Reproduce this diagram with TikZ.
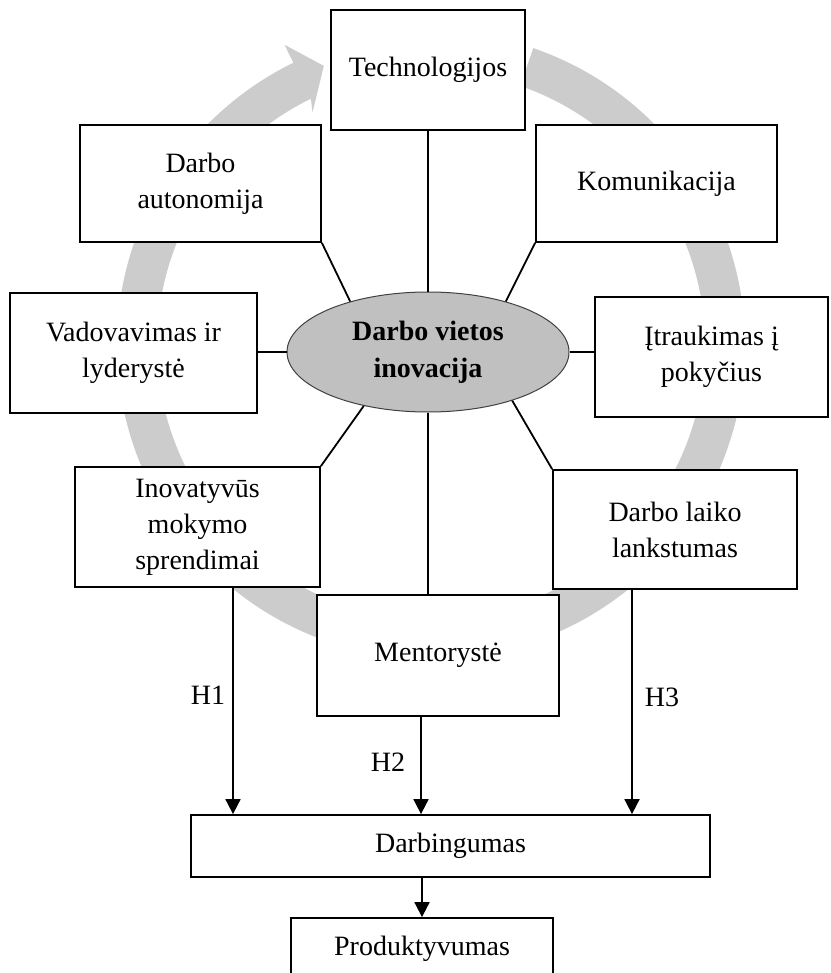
\documentclass[tikz,border=0pt]{standalone}
\usepackage{fontspec}
\setmainfont{Liberation Serif}
\usetikzlibrary{shapes.geometric,arrows.meta,calc}
\definecolor{ringgray}{RGB}{204,204,204}
\definecolor{hubgray}{RGB}{192,192,192}
\begin{document}
\begin{tikzpicture}[x=1pt,y=-1pt,
  every node/.style={font=\fontsize{28}{36}\selectfont, inner sep=0pt},
  factor/.style={draw, fill=white, line width=1.8pt, align=center},
  hub/.style={ellipse, draw=black!75, line width=1pt, fill=hubgray, align=center,
    font=\bfseries\fontsize{28}{37}\selectfont},
  link/.style={line width=1.8pt},
  arr/.style={line width=1.8pt, -{Triangle[width=15pt,length=15pt]}}
]
\useasboundingbox (0,0) rectangle (830,973);
\clip (0,0) rectangle (830,973);

% circular cycle arrow behind the factors
\fill[ringgray, shift={(431,345)}]
  (289:314) arc[start angle=289, end angle=604, radius=314]
  -- (604:334) -- (609:299) -- (603:261) -- (604:274)
  arc[start angle=604, end angle=289, radius=274] -- cycle;

% factor boxes
\node[factor, minimum width=194, minimum height=120] (tech) at (428,70) {Technologijos};
\node[factor, minimum width=241, minimum height=117] (auto) at (200.5,183.5) {Darbo\\autonomija};
\node[factor, minimum width=241, minimum height=117] (komu) at (656.5,183.5) {Komunikacija};
\node[factor, minimum width=247, minimum height=120] (vado) at (133.5,353) {Vadovavimas ir\\lyderystė};
\node[factor, minimum width=233, minimum height=120] (itr) at (711.5,357) {Įtraukimas į\\pokyčius};
\node[factor, minimum width=245, minimum height=120] (inov) at (197.5,527) {Inovatyvūs\\mokymo\\sprendimai};
\node[factor, minimum width=244, minimum height=119] (lank) at (675,529.5) {Darbo laiko\\lankstumas};
\node[factor, minimum width=242, minimum height=121] (ment) at (438,655.5) {Mentorystė};
\node[factor, minimum width=519, minimum height=62] (darb) at (450.5,846) {Darbingumas};
\node[factor, minimum width=262, minimum height=62] (prod) at (422,949) {Produktyvumas};

% central ellipse
\node[hub, minimum width=282, minimum height=120] (hubnode) at (428,352) {Darbo vietos\\inovacija};

% spokes
\draw[link] (tech.south) -- (hubnode.north);
\draw[link] (auto.south east) -- (hubnode.147);
\draw[link] (komu.south west) -- (hubnode.33);
\draw[link] (hubnode.west -| vado.east) -- (hubnode.west);
\draw[link] (hubnode.east) -- (hubnode.east -| itr.west);
\draw[link] (inov.north east) -- (hubnode.220);
\draw[link] (lank.north west) -- (hubnode.330);
\draw[link] (hubnode.south) -- (hubnode.south |- ment.north);

% hypotheses
\draw[arr] ([xshift=35.5pt]inov.south) -- ([xshift=35.5pt]inov.south |- darb.north);
\draw[arr] ([xshift=-17pt]ment.south) -- ([xshift=-17pt]ment.south |- darb.north);
\draw[arr] ([xshift=-43pt]lank.south) -- ([xshift=-43pt]lank.south |- darb.north);
\draw[arr] (prod.north |- darb.south) -- (prod.north);

\node (h1) at (208,695) {H1};
\node (h2) at (388,762) {H2};
\node (h3) at (662,697) {H3};
\end{tikzpicture}
\end{document}
